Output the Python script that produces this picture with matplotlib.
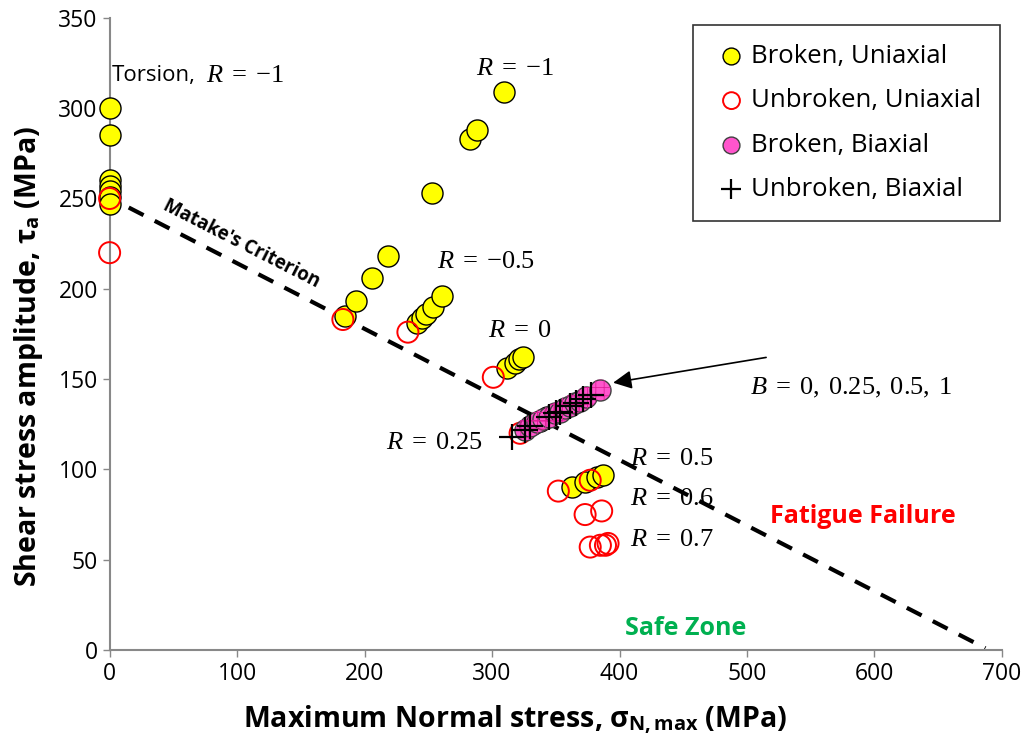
import numpy as np
import matplotlib
matplotlib.use('Agg')
import matplotlib.pyplot as plt

plt.rcParams['font.family'] = ['Open Sans', 'DejaVu Sans']
plt.rcParams['mathtext.fontset'] = 'custom'
plt.rcParams['mathtext.rm'] = 'Liberation Serif'
plt.rcParams['mathtext.it'] = 'Liberation Serif:italic'
plt.rcParams['mathtext.bf'] = 'Open Sans:bold'
plt.rcParams['hatch.linewidth'] = 0.6

# ---------------------------- data ---------------------------- #
# broken, uniaxial (torsion, R=-1, R=-0.5, R=0, R=0.25, R=0.5)
bu_x = [0, 0, 0, 0, 0, 0, 0,
        185, 193, 206, 218, 253, 283, 288, 309,
        241, 245, 248, 254, 261,
        312, 318, 321, 324,
        332, 338, 343,
        363, 373, 382, 387]
bu_y = [300, 285, 260, 257, 254, 251, 247,
        185, 193, 206, 218, 253, 283, 288, 309,
        181, 184, 186, 190, 196,
        156, 159, 161, 162,
        125, 127, 129,
        90, 93, 96, 97]

# unbroken, uniaxial
uu_x = [0, 0, 183, 234, 301, 322, 352, 377, 373, 386, 377, 385, 389, 391]
uu_y = [250, 220, 183, 176, 151, 120, 88, 94, 75, 77, 57, 58, 58, 59]

# broken, biaxial
bb_x = [326, 330, 335, 340, 345, 349, 353, 357, 361, 365, 369, 374, 385]
bb_y = [122, 124, 126, 128, 129, 131, 132, 134, 135, 137, 138, 140, 144]

# unbroken, biaxial
ub_x = [316, 326, 330, 345, 350, 353, 361, 366, 371, 378]
ub_y = [118, 122, 124, 129, 131, 132, 135, 137, 139, 141]

# Matake's criterion line end points
matake_x = [15, 687]
matake_y = [245, 1]

# -------------------------------------------------------------- #

fig = plt.figure(figsize=(10.34, 7.45), dpi=100)
ax = fig.add_axes([0.106, 0.1275, 0.863, 0.8485])

ax.plot(matake_x, matake_y, color='black', lw=3, dashes=(4, 3), zorder=2)

ax.scatter(bu_x, bu_y, s=230, c='#FFFF00', edgecolors='black', linewidths=1.0,
           zorder=3, clip_on=False, label='Broken, Uniaxial')
ax.scatter(uu_x, uu_y, s=230, facecolors='none', edgecolors='#FF0000', linewidths=1.4,
           zorder=4, clip_on=False, label='Unbroken, Uniaxial')
ax.scatter(bb_x, bb_y, s=230, c='#FF55CC', edgecolors='#404040', linewidths=1.0,
           zorder=5, clip_on=False, label='Broken, Biaxial')
ax.scatter(bb_x, bb_y, s=230, facecolors='none', edgecolors='#E0209A', linewidths=0,
           hatch='++', zorder=5, clip_on=False)
ax.scatter(ub_x, ub_y, s=330, marker='+', c='black', linewidths=1.6,
           zorder=6, clip_on=False, label='Unbroken, Biaxial')

ax.set_xlim(0, 700)
ax.set_ylim(0, 350)
ax.set_xticks(np.arange(0, 701, 100))
ax.set_yticks(np.arange(0, 351, 50))
ax.tick_params(labelsize=16.5, labelcolor='black', length=5, width=1, color='#888888')
for s in ['top', 'right']:
    ax.spines[s].set_visible(False)
for s in ['left', 'bottom']:
    ax.spines[s].set_color('#888888')
    ax.spines[s].set_linewidth(1.5)

ax.set_xlabel(r'Maximum Normal stress, σ$_\mathbf{N,max}$ (MPa)',
              fontsize=20.5, fontweight='bold')
ax.set_ylabel(r'Shear stress amplitude, τ$_\mathbf{a}$ (MPa)',
              fontsize=20.5, fontweight='bold')
ax.xaxis.set_label_coords(0.454, -0.085)
ax.yaxis.set_label_coords(-0.072, 0.465)

# annotations
ax.text(2, 318, 'Torsion,', fontsize=16, ha='left', va='center')
ax.text(76, 318, r'$R\;=\;{-}1$', fontsize=19, ha='left', va='center')
ax.text(318, 322, r'$R\;=\;{-}1$', fontsize=19, ha='center', va='center')
ax.text(295, 215, r'$R\;=\;{-}0.5$', fontsize=19, ha='center', va='center')
ax.text(322, 177, r'$R\;=\;0$', fontsize=19, ha='center', va='center')
ax.text(255, 115, r'$R\;=\;0.25$', fontsize=19, ha='center', va='center')
ax.text(441, 106, r'$R\;=\;0.5$', fontsize=19, ha='center', va='center')
ax.text(441, 84, r'$R\;=\;0.6$', fontsize=19, ha='center', va='center')
ax.text(441, 61, r'$R\;=\;0.7$', fontsize=19, ha='center', va='center')
ax.text(103, 225, "Matake's Criterion", fontsize=13.5, fontweight='bold',
        rotation=-27, ha='center', va='center')
ax.text(591, 74, 'Fatigue Failure', fontsize=18, fontweight='bold', color='#FF0000',
        ha='center', va='center')
ax.text(452, 12, 'Safe Zone', fontsize=18, fontweight='bold', color='#00B050',
        ha='center', va='center')
ax.text(582, 145, r'$B\;=\;0,\;0.25,\;0.5,\;1$', fontsize=19, ha='center', va='center')
ax.annotate('', xy=(395, 148), xytext=(515, 162),
            arrowprops=dict(arrowstyle='-|>', color='black', lw=1.2,
                            mutation_scale=28, shrinkA=0, shrinkB=0))

leg = ax.legend(loc='upper right', bbox_to_anchor=(0.998, 0.989), borderaxespad=0,
                fontsize=18.5, frameon=True, fancybox=False, edgecolor='black',
                markerscale=0.8, handletextpad=0.0, labelspacing=0.75, borderpad=0.75,
                handlelength=1.5)
leg.get_frame().set_linewidth(1.2)

fig.savefig('out.png', dpi=100)
